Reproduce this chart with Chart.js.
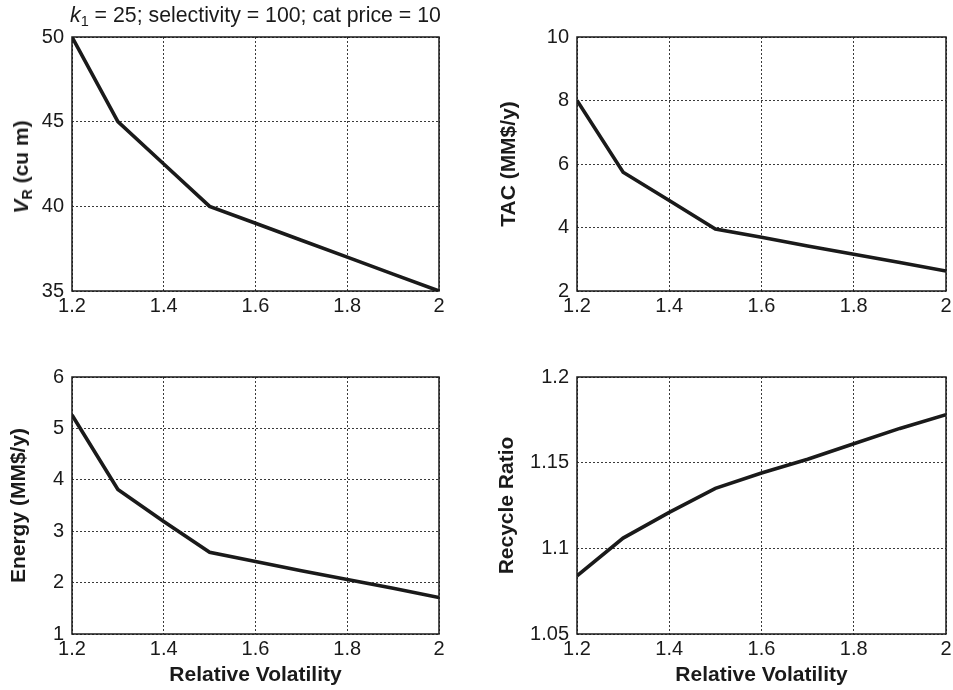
<!DOCTYPE html>
<html>
<head>
<meta charset="utf-8">
<script src="https://cdn.jsdelivr.net/npm/chart.js@4.4.0/dist/chart.umd.min.js"></script>
<style>
  html, body { margin:0; padding:0; background:#fff; width:953px; height:690px; overflow:hidden; position:relative; font-family:"Liberation Sans", Arial, Helvetica, sans-serif; }
  .box { position:absolute; }
  #title { position:absolute; left:70px; top:2px; font-size:21.3px; line-height:26px; color:#1a1a1a; white-space:nowrap; }
  #title sub { font-size:0.68em; vertical-align:-0.3em; line-height:0; }
  #vrlab { position:absolute; left:20.5px; top:167px; transform:translate(-50%,-50%) rotate(-90deg); font-size:21px; font-weight:bold; color:#1a1a1a; white-space:nowrap; line-height:24px; }
  #vrlab sub { font-size:0.68em; vertical-align:-0.3em; line-height:0; }
</style>
</head>
<body>
<div class="box" style="left:0;top:0;width:476px;height:345px"><canvas id="c1"></canvas></div>
<div class="box" style="left:476px;top:0;width:500px;height:345px"><canvas id="c2"></canvas></div>
<div class="box" style="left:0;top:345px;width:476px;height:345px"><canvas id="c3"></canvas></div>
<div class="box" style="left:476px;top:345px;width:500px;height:345px"><canvas id="c4"></canvas></div>
<div id="title"><i>k</i><sub>1</sub> = 25; selectivity = 100; cat price = 10</div>
<div id="vrlab"><i>V</i><sub>R</sub> (cu m)</div>
<script>
// ---- data ----
const relVol = [1.2, 1.3, 1.4, 1.5, 1.6, 1.7, 1.8, 1.9, 2.0];
const reactorVolume = [50, 45, 42.5, 40, 39.0, 38.0, 37.0, 36.0, 35.0];
const tac = [8.0, 5.74, 4.85, 3.95, 3.69, 3.42, 3.16, 2.90, 2.63];
const energy = [5.26, 3.81, 3.19, 2.59, 2.41, 2.23, 2.06, 1.89, 1.71];
const recycleRatio = [1.084, 1.106, 1.121, 1.135, 1.144, 1.152, 1.161, 1.170, 1.178];

const xTicks = [1.2, 1.4, 1.6, 1.8, 2];
const vrTicks = [35, 40, 45, 50];
const tacTicks = [2, 4, 6, 8, 10];
const energyTicks = [1, 2, 3, 4, 5, 6];
const rrTicks = [1.05, 1.1, 1.15, 1.2];

const xTitle = 'Relative Volatility';

const FONT = '"Liberation Sans", Arial, Helvetica, sans-serif';
const fmt = v => String(Math.round(v * 1000) / 1000);

const framePlugin = {
  id: 'frame',
  afterDraw(chart) {
    const a = chart.chartArea, ctx = chart.ctx;
    ctx.save();
    ctx.strokeStyle = '#1a1a1a';
    ctx.lineWidth = 1.5;
    ctx.strokeRect(a.left, a.top, a.right - a.left, a.bottom - a.top);
    ctx.restore();
  }
};

function make(id, ys, yTicks, o) {
  const pts = relVol.map((x, i) => ({x: x, y: ys[i]}));
  return new Chart(document.getElementById(id), {
    type: 'line',
    data: { datasets: [{ data: pts, borderColor: '#1a1a1a', borderWidth: 3.6, pointRadius: 0, tension: 0, fill: false }] },
    options: {
      responsive: true, maintainAspectRatio: false, animation: false,
      layout: { padding: o.pad },
      plugins: { legend: { display: false }, tooltip: { enabled: false } },
      scales: {
        x: {
          type: 'linear', min: xTicks[0], max: xTicks[xTicks.length - 1],
          afterBuildTicks: s => { s.ticks = xTicks.map(v => ({value: v})); },
          afterFit: s => { s.height = o.xH; },
          grid: { color: '#3a3a3a', lineWidth: 1, drawTicks: false },
          border: { display: false, dash: [2, 2] },
          ticks: { color: '#1a1a1a', font: { family: FONT, size: 20 }, padding: 3, maxRotation: 0, callback: v => fmt(v) },
          title: { display: !!o.xTitle, text: o.xTitle || '', color: '#1a1a1a', font: { family: FONT, size: 21, weight: 'bold' }, padding: { top: 0, bottom: 2 } }
        },
        y: {
          type: 'linear', min: yTicks[0], max: yTicks[yTicks.length - 1],
          afterBuildTicks: s => { s.ticks = yTicks.map(v => ({value: v})); },
          afterFit: s => { s.width = o.yW; },
          grid: { color: '#3a3a3a', lineWidth: 1, drawTicks: false },
          border: { display: false, dash: [2, 2] },
          ticks: { color: '#1a1a1a', font: { family: FONT, size: 20 }, padding: 8, callback: v => fmt(v) },
          title: { display: !!o.yTitle, text: o.yTitle || '', color: '#1a1a1a', font: { family: FONT, size: 21, weight: 'bold' }, padding: { top: o.yTPad, bottom: 0 } }
        }
      }
    },
    plugins: [framePlugin]
  });
}

make('c1', reactorVolume, vrTicks, { pad: {left: 0, top: 37, right: 37, bottom: 24}, xH: 30, yW: 72, yTitle: '', yTPad: 0 });
make('c2', tac, tacTicks, { pad: {left: 0, top: 37, right: 30, bottom: 24}, xH: 30, yW: 101, yTitle: 'TAC (MM$/y)', yTPad: 20.5 });
make('c3', energy, energyTicks, { pad: {left: 0, top: 32, right: 37, bottom: 0}, xH: 56, yW: 72, yTitle: 'Energy (MM$/y)', yTPad: 7, xTitle: xTitle });
make('c4', recycleRatio, rrTicks, { pad: {left: 0, top: 32, right: 30, bottom: 0}, xH: 56, yW: 101, yTitle: 'Recycle Ratio', yTPad: 18.5, xTitle: xTitle });
</script>
</body>
</html>
